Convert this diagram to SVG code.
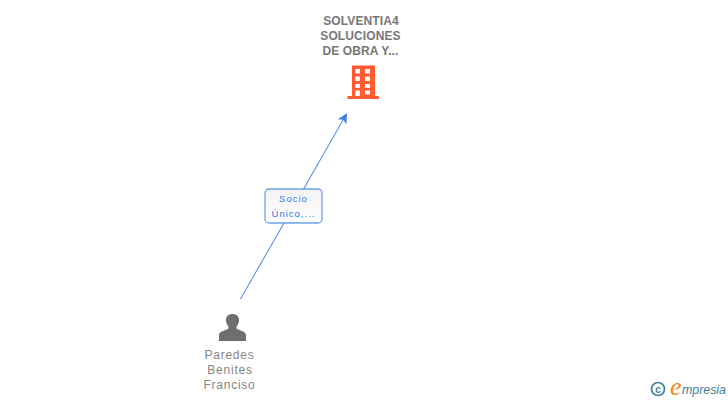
<svg xmlns="http://www.w3.org/2000/svg" width="728" height="400" viewBox="0 0 728 400">
<defs>
<marker id="arr" markerWidth="12" markerHeight="12" refX="9" refY="5" orient="auto" markerUnits="userSpaceOnUse"><path d="M0 0L10 5L0 10L2.500 5Z" fill="#3f7fe0"/></marker>
<linearGradient id="lb" x1="0" y1="0" x2="0" y2="1"><stop offset="0" stop-color="#f2f2f2"/><stop offset="1" stop-color="#ffffff"/></linearGradient>
</defs>
<style>
.n{font-family:"Liberation Sans",Arial,sans-serif;font-size:12px;text-anchor:middle}
.b{font-weight:bold;letter-spacing:.1px;fill:#777777}
.p{letter-spacing:.75px;fill:#858585}
.l{font-family:"Liberation Sans",Arial,sans-serif;font-size:9.500px;text-anchor:middle;fill:#2f78e6;letter-spacing:1px}
</style>
<rect width="728" height="400" fill="#ffffff"/>
<g id="connectors">
<path d="M240.500 299L346.500 114" fill="none" stroke="#5a94e8" stroke-width="1.100" marker-end="url(#arr)"/>
</g>
<g id="edge-label">
<rect x="265" y="189" width="57" height="34" rx="4" fill="url(#lb)" stroke="#6aa2ee" stroke-width="1.300"/>
<text class="l" x="293.500" y="202">Socio</text>
<text class="l" x="293.500" y="217">Único,...</text>
</g>
<g id="node-company">
<text class="n b" x="361" y="25">SOLVENTIA4</text>
<text class="n b" x="360.500" y="40">SOLUCIONES</text>
<text class="n b" x="360.500" y="55">DE OBRA Y...</text>
<path fill="#ff5c33" fill-rule="evenodd" d="M352 65.500H375V96H379V99H347.500V96H352ZM355.500 69V73.500H360V69ZM365 69V73.500H370V69ZM355.500 76.500V81H360V76.500ZM365 76.500V81H370V76.500ZM355.500 84V88H360V84ZM365 84V88H370V84ZM355.500 90.500V96H360V90.500ZM365 90.500V94.500H370V90.500Z"/>
</g>
<g id="node-person">
<path fill="#6e6e6e" d="M219 341V335C219 331.500 225 330.500 228 329C229 328 228.500 326.500 228 326C226.500 324 226 322 226 320C226 316 229 314 232.500 314C236 314 239 316 239 320C239 322 238.500 324 237 326C236.500 326.500 236 328 237 329C240 330.500 246 331.500 246 335V341Z"/>
<text class="n p" x="229.500" y="359">Paredes</text>
<text class="n p" x="230" y="374">Benites</text>
<text class="n p" x="229.500" y="389">Franciso</text>
</g>
<g id="watermark">
<circle cx="658" cy="389" r="6.500" fill="none" stroke="#3d7f96" stroke-width="1.700"/>
<text x="658" y="392.500" font-family="Liberation Sans,Arial,sans-serif" font-size="10" font-weight="bold" text-anchor="middle" fill="#3d7f96">c</text>
<text x="670" y="395" font-family="Liberation Serif,serif" font-style="italic" font-size="26" fill="#f08a24">e</text>
<text x="682" y="394" font-family="Liberation Sans,Arial,sans-serif" font-style="italic" font-size="12.500" fill="#3d7f96" textLength="44" lengthAdjust="spacingAndGlyphs">mpresia</text>
</g>
</svg>
